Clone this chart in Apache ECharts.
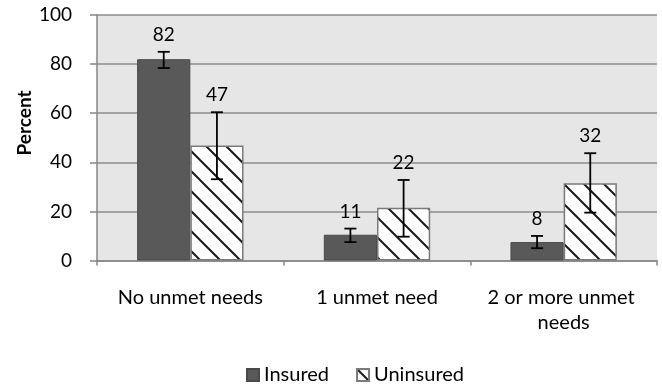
<!DOCTYPE html>
<html>
<head>
<meta charset="utf-8">
<script src="https://cdn.jsdelivr.net/npm/echarts@6/dist/echarts.min.js"></script>
<style>html,body{margin:0;padding:0;background:#fff;}#c{width:662px;height:385px;}</style>
</head>
<body>
<div id="c"></div>
<script>
const categories = ['No unmet needs', '1 unmet need', '2 or more unmet needs'];
const seriesNames = ['Insured', 'Uninsured'];
const insured = [82, 10.5, 7.5];
const uninsured = [46.8, 21.5, 31.5];
const insuredLabels = ['82', '11', '8'];
const uninsuredLabels = ['47', '22', '32'];
const insuredLow = [78.4, 7.5, 5.0];
const insuredHigh = [85.0, 13.0, 10.0];
const uninsuredLow = [33.1, 9.7, 19.5];
const uninsuredHigh = [60.4, 32.8, 43.7];
const yTicks = [0, 20, 40, 60, 80, 100];

const FONT = 'Lato';
const FS = 19;
const FS_CAT = 20;
const CAT_GAP = 0.43;

// hatch pattern
const pc = document.createElement('canvas');
pc.width = 20; pc.height = 20;
const g = pc.getContext('2d');
g.fillStyle = '#ffffff'; g.fillRect(0, 0, 20, 20);
g.strokeStyle = '#1a1a1a'; g.lineWidth = 2;
g.beginPath();
g.moveTo(-2, -2); g.lineTo(22, 22);
g.moveTo(-12, 8); g.lineTo(2, 22);
g.moveTo(8, -12); g.lineTo(22, 2);
g.stroke();
const hatch = { image: pc, repeat: 'repeat' };

function errData(low, high, labels) {
  return categories.map((c, i) => [i, low[i], high[i], labels[i]]);
}
function makeErr(side) {
  return function (params, api) {
    const x = api.value(0);
    const lo = api.coord([x, api.value(1)]);
    const hi = api.coord([x, api.value(2)]);
    const band = api.size([1, 0])[0];
    const bw = band * (1 - CAT_GAP) / 2;
    const cx = lo[0] + side * bw / 2;
    const cap = 6;
    const st = { stroke: '#000', lineWidth: 1.8 };
    return {
      type: 'group',
      children: [
        { type: 'line', shape: { x1: cx, y1: lo[1], x2: cx, y2: hi[1] }, style: st },
        { type: 'line', shape: { x1: cx - cap, y1: lo[1], x2: cx + cap, y2: lo[1] }, style: st },
        { type: 'line', shape: { x1: cx - cap, y1: hi[1], x2: cx + cap, y2: hi[1] }, style: st },
        { type: 'text', style: { x: cx, y: hi[1] - 17, text: api.value(3) + '', fill: '#000',
          font: FS + 'px ' + FONT, textAlign: 'center', textVerticalAlign: 'middle' } }
      ]
    };
  };
}

const chart = echarts.init(document.getElementById('c'), null, { renderer: 'canvas' });
chart.setOption({
  animation: false,
  backgroundColor: '#ffffff',
  textStyle: { fontFamily: FONT },
  grid: { left: 97, right: 5, top: 15, bottom: 124.5, show: true, backgroundColor: '#e6e6e6', borderWidth: 0 },
  legend: {
    data: seriesNames,
    left: 246, top: 365, padding: 0,
    itemWidth: 12, itemHeight: 12, itemGap: 27,
    icon: 'rect',
    textStyle: { fontFamily: FONT, fontSize: FS_CAT, color: '#000' }
  },
  graphic: [{
    type: 'text',
    x: 25, y: 123, rotation: Math.PI / 2,
    style: { text: 'Percent', font: 'bold ' + FS + 'px ' + FONT, fill: '#000', textAlign: 'center', textVerticalAlign: 'middle' }
  }],
  xAxis: {
    type: 'category', data: categories,
    axisLine: { lineStyle: { color: '#868686', width: 1.5 } },
    axisTick: { show: true, length: 5, lineStyle: { color: '#868686', width: 1.5 } },
    axisLabel: { fontFamily: FONT, fontSize: FS_CAT, color: '#000', margin: 25, lineHeight: 25,
      width: 175, overflow: 'break', interval: 0 },
    splitLine: { show: false }
  },
  yAxis: {
    type: 'value', min: 0, max: 100, interval: 20,
    axisLine: { show: true, lineStyle: { color: '#868686', width: 1.5 } },
    axisTick: { show: true, length: 7, lineStyle: { color: '#868686', width: 1.5 } },
    axisLabel: { fontFamily: FONT, fontSize: FS, color: '#000', margin: 25,
      formatter: v => (yTicks.indexOf(v) >= 0 ? String(v) : '') },
    splitLine: { show: true, lineStyle: { color: '#8c8c8c', width: 1.5 } }
  },
  series: [
    { name: 'Insured', type: 'bar', data: insured, barGap: '0%', barCategoryGap: (CAT_GAP * 100) + '%',
      itemStyle: { color: '#595959', borderColor: '#4a4a4a', borderWidth: 1 } },
    { name: 'Uninsured', type: 'bar', data: uninsured, barGap: '0%', barCategoryGap: (CAT_GAP * 100) + '%',
      itemStyle: { color: hatch, borderColor: '#7a7a7a', borderWidth: 1.5 } },
    { type: 'custom', renderItem: makeErr(-1), data: errData(insuredLow, insuredHigh, insuredLabels),
      encode: { x: 0, y: [1, 2] }, z: 5, silent: true },
    { type: 'custom', renderItem: makeErr(1), data: errData(uninsuredLow, uninsuredHigh, uninsuredLabels),
      encode: { x: 0, y: [1, 2] }, z: 5, silent: true }
  ]
});
</script>
</body>
</html>
